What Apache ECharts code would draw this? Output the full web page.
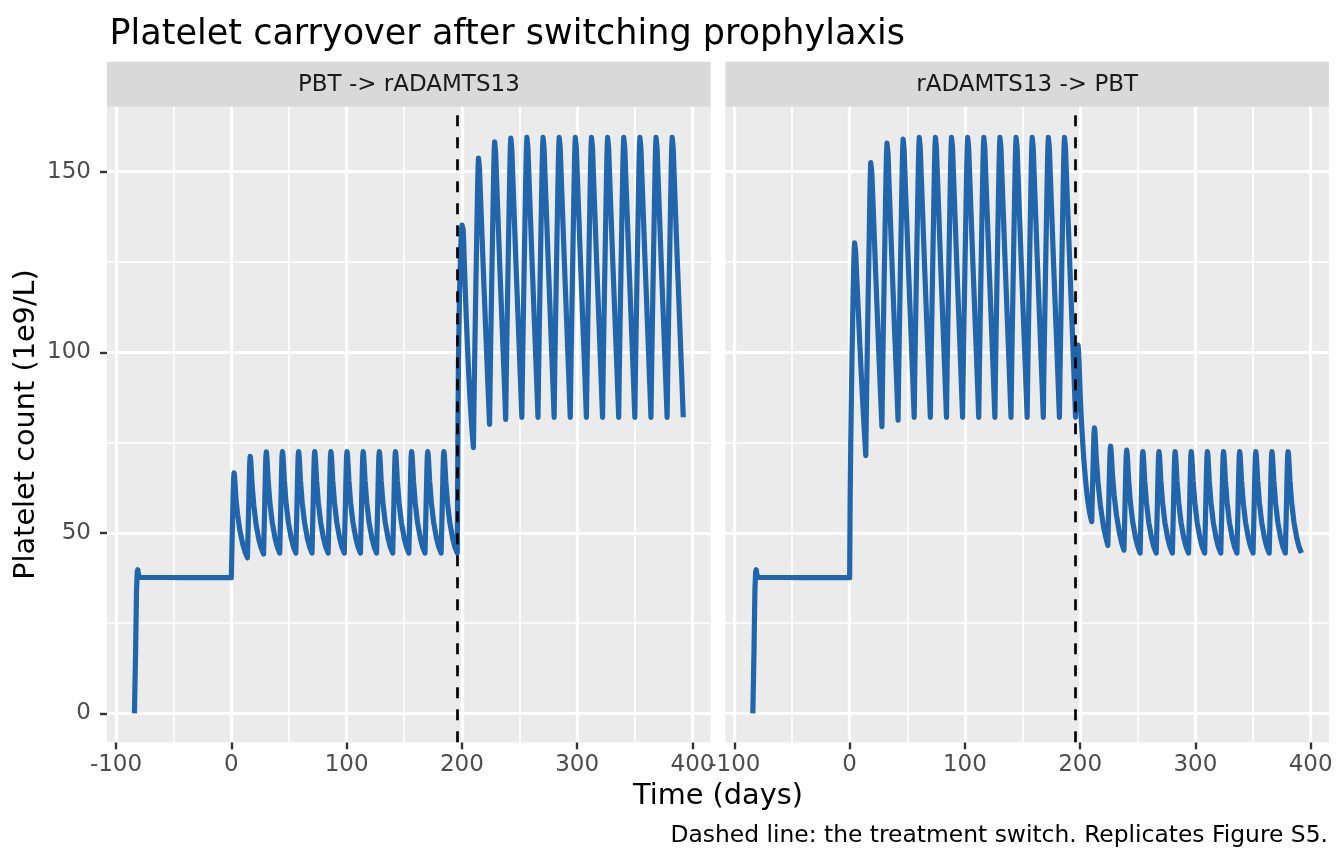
<!DOCTYPE html>
<html>
<head>
<meta charset="utf-8">
<title>Platelet carryover after switching prophylaxis</title>
<script src="https://cdn.jsdelivr.net/npm/echarts@6/dist/echarts.min.js"></script>
<style>
html, body { margin: 0; padding: 0; background: #fff; }
#chart { width: 1344px; height: 864px; }
</style>
</head>
<body>
<div id="chart"></div>
<script>
var FONT = '"DejaVu Sans", sans-serif';
var BLUE = '#2166AC';

var facets = ['PBT -> rADAMTS13', 'rADAMTS13 -> PBT'];
var switchDay = 196;
var xTicks = [-100, 0, 100, 200, 300, 400];
var xMinor = [-50, 50, 150, 250, 350];
var yTicks = [0, 50, 100, 150];
var yMinor = [25, 75, 125];

// [day, platelets]; run-in is the same for both arms
var baseline = [[-84,0],[-83,17],[-82.2,34],[-81.6,39],[-81.1,39.8],[-80.5,38.5],[-79.7,37.7],[-78.5,37.6],[-40,37.6]];

// arm 1: PBT every 14 days, then rADAMTS13
var pbtFirst = [
  [0,37.6],[1,52],[1.6,60.8],[2,65],[2.4,66.6],[2.8,65.8],[3.3,63.5],[4,59.5],[5.5,55],[7.5,50.5],[10,46.8],[12,44.6],
  [14,43.1],[15,56],[15.6,64.8],[16,69.5],[16.4,71.2],[16.8,70.3],[17.3,67.8],[18,63.5],[19.5,57.7],[21.5,52.3],[24,48],[26,45.7],
  [28,44.1],[29,58],[29.6,67],[30,71.2],[30.4,72.4],[30.8,71.4],[31.3,68.7],[32,64.4],[33.5,58.3],[35.5,52.9],[38,48.5],[40,46],
  [42,44.4],[43,58],[43.6,67],[44,71.3],[44.4,72.5],[44.8,71.5],[45.3,68.8],[46,64.5],[47.5,58.4],[49.5,52.9],[52,48.5],[54,46],
  [56,44.4],[57,58],[57.6,67],[58,71.3],[58.4,72.5],[58.8,71.5],[59.3,68.8],[60,64.5],[61.5,58.4],[63.5,52.9],[66,48.5],[68,46],
  [70,44.4],[71,58],[71.6,67],[72,71.3],[72.4,72.5],[72.8,71.5],[73.3,68.8],[74,64.5],[75.5,58.4],[77.5,52.9],[80,48.5],[82,46],
  [84,44.4],[85,58],[85.6,67],[86,71.3],[86.4,72.5],[86.8,71.5],[87.3,68.8],[88,64.5],[89.5,58.4],[91.5,52.9],[94,48.5],[96,46],
  [98,44.4],[99,58],[99.6,67],[100,71.3],[100.4,72.5],[100.8,71.5],[101.3,68.8],[102,64.5],[103.5,58.4],[105.5,52.9],[108,48.5],[110,46],
  [112,44.4],[113,58],[113.6,67],[114,71.3],[114.4,72.5],[114.8,71.5],[115.3,68.8],[116,64.5],[117.5,58.4],[119.5,52.9],[122,48.5],[124,46],
  [126,44.4],[127,58],[127.6,67],[128,71.3],[128.4,72.5],[128.8,71.5],[129.3,68.8],[130,64.5],[131.5,58.4],[133.5,52.9],[136,48.5],[138,46],
  [140,44.4],[141,58],[141.6,67],[142,71.3],[142.4,72.5],[142.8,71.5],[143.3,68.8],[144,64.5],[145.5,58.4],[147.5,52.9],[150,48.5],[152,46],
  [154,44.4],[155,58],[155.6,67],[156,71.3],[156.4,72.5],[156.8,71.5],[157.3,68.8],[158,64.5],[159.5,58.4],[161.5,52.9],[164,48.5],[166,46],
  [168,44.4],[169,58],[169.6,67],[170,71.3],[170.4,72.5],[170.8,71.5],[171.3,68.8],[172,64.5],[173.5,58.4],[175.5,52.9],[178,48.5],[180,46],
  [182,44.4],[183,58],[183.6,67],[184,71.3],[184.4,72.5],[184.8,71.5],[185.3,68.8],[186,64.5],[187.5,58.4],[189.5,52.9],[192,48.5],[194,46]
];
var radamtsAfter = [
  [196,44.4],[196.5,75],[197,97],[198,117],[199,129],[199.6,133.5],[200.1,135.2],[200.6,135.4],[201.1,134],[201.6,130.5],[202,126],[203,116.5],[204,108],[205,100.5],[206,93.5],[207,87.5],[208,82],[209,77.5],
  [210,73.6],[210.5,86],[211,96.5],[212,116],[213,134.5],[213.6,145],[214,150.8],[214.4,153.8],[214.8,153.9],[215.3,150.8],[216,144.5],[217.5,132],[219,119.5],[221,103.5],[222.5,91.5],
  [224,80],[224.5,92],[225,102.5],[226,121.5],[227,139.5],[227.6,150],[228,155.6],[228.4,158.3],[228.8,158.4],[229.3,155.3],[230,148.8],[231.5,135.8],[233,122.8],[235,106.5],[236.5,94.3],
  [238,81.4],[238.5,93.5],[239,103.5],[240,122.5],[241,140.5],[241.6,151],[242,156.6],[242.4,159.3],[242.8,159.4],[243.3,156.3],[244,149.8],[245.5,136.8],[247,123.8],[249,107.3],[250.5,94.8],
  [252,82],[252.5,94],[253,104],[254,123],[255,141],[255.6,151.5],[256,156.8],[256.4,159.5],[256.8,159.6],[257.3,156.5],[258,150],[259.5,137],[261,124],[263,107.5],[264.5,95],
  [266,82],[266.5,94],[267,104],[268,123],[269,141],[269.6,151.5],[270,156.8],[270.4,159.5],[270.8,159.6],[271.3,156.5],[272,150],[273.5,137],[275,124],[277,107.5],[278.5,95],
  [280,82],[280.5,94],[281,104],[282,123],[283,141],[283.6,151.5],[284,156.8],[284.4,159.5],[284.8,159.6],[285.3,156.5],[286,150],[287.5,137],[289,124],[291,107.5],[292.5,95],
  [294,82],[294.5,94],[295,104],[296,123],[297,141],[297.6,151.5],[298,156.8],[298.4,159.5],[298.8,159.6],[299.3,156.5],[300,150],[301.5,137],[303,124],[305,107.5],[306.5,95],
  [308,82],[308.5,94],[309,104],[310,123],[311,141],[311.6,151.5],[312,156.8],[312.4,159.5],[312.8,159.6],[313.3,156.5],[314,150],[315.5,137],[317,124],[319,107.5],[320.5,95],
  [322,82],[322.5,94],[323,104],[324,123],[325,141],[325.6,151.5],[326,156.8],[326.4,159.5],[326.8,159.6],[327.3,156.5],[328,150],[329.5,137],[331,124],[333,107.5],[334.5,95],
  [336,82],[336.5,94],[337,104],[338,123],[339,141],[339.6,151.5],[340,156.8],[340.4,159.5],[340.8,159.6],[341.3,156.5],[342,150],[343.5,137],[345,124],[347,107.5],[348.5,95],
  [350,82],[350.5,94],[351,104],[352,123],[353,141],[353.6,151.5],[354,156.8],[354.4,159.5],[354.8,159.6],[355.3,156.5],[356,150],[357.5,137],[359,124],[361,107.5],[362.5,95],
  [364,82],[364.5,94],[365,104],[366,123],[367,141],[367.6,151.5],[368,156.8],[368.4,159.5],[368.8,159.6],[369.3,156.5],[370,150],[371.5,137],[373,124],[375,107.5],[376.5,95],
  [378,82],[378.5,94],[379,104],[380,123],[381,141],[381.6,151.5],[382,156.8],[382.4,159.5],[382.8,159.6],[383.3,156.5],[384,150],[385.5,137],[387,124],[389,107.5],[390.5,95],
  [392,82]
];

// arm 2: rADAMTS13 first, then PBT
var radamtsFirst = [
  [0,37.6],[0.4,58],[1,76],[2,98],[3,116],[3.5,123.5],[3.9,128],[4.3,130.3],[4.7,130.3],[5.2,128],[6,122],[7,115],[8,108],[9,101],[10,94.5],[11,88.3],[12,82.3],[13,76.7],
  [14,71.4],[14.5,84],[15,94.5],[16,114],[17,132.5],[17.5,142.5],[17.9,149],[18.3,152.5],[18.7,152.6],[19.2,150],[20,143.5],[21.5,131],[23,118.5],[25,102.3],[26.5,90.7],
  [28,79.4],[28.5,91.5],[29,102],[30,121],[31,139],[31.6,149.8],[32,155.2],[32.4,157.9],[32.8,158],[33.3,155],[34,148.5],[35.5,135.5],[37,122.5],[39,106],[40.5,94],
  [42,81.2],[42.5,93.3],[43,103.3],[44,122.3],[45,140.3],[45.6,150.8],[46,156.3],[46.4,159],[46.8,159.1],[47.3,156],[48,149.5],[49.5,136.5],[51,123.5],[53,107],[54.5,94.8],
  [56,82],[56.5,94],[57,104],[58,123],[59,141],[59.6,151.5],[60,156.8],[60.4,159.5],[60.8,159.6],[61.3,156.5],[62,150],[63.5,137],[65,124],[67,107.5],[68.5,95],
  [70,82],[70.5,94],[71,104],[72,123],[73,141],[73.6,151.5],[74,156.8],[74.4,159.5],[74.8,159.6],[75.3,156.5],[76,150],[77.5,137],[79,124],[81,107.5],[82.5,95],
  [84,82],[84.5,94],[85,104],[86,123],[87,141],[87.6,151.5],[88,156.8],[88.4,159.5],[88.8,159.6],[89.3,156.5],[90,150],[91.5,137],[93,124],[95,107.5],[96.5,95],
  [98,82],[98.5,94],[99,104],[100,123],[101,141],[101.6,151.5],[102,156.8],[102.4,159.5],[102.8,159.6],[103.3,156.5],[104,150],[105.5,137],[107,124],[109,107.5],[110.5,95],
  [112,82],[112.5,94],[113,104],[114,123],[115,141],[115.6,151.5],[116,156.8],[116.4,159.5],[116.8,159.6],[117.3,156.5],[118,150],[119.5,137],[121,124],[123,107.5],[124.5,95],
  [126,82],[126.5,94],[127,104],[128,123],[129,141],[129.6,151.5],[130,156.8],[130.4,159.5],[130.8,159.6],[131.3,156.5],[132,150],[133.5,137],[135,124],[137,107.5],[138.5,95],
  [140,82],[140.5,94],[141,104],[142,123],[143,141],[143.6,151.5],[144,156.8],[144.4,159.5],[144.8,159.6],[145.3,156.5],[146,150],[147.5,137],[149,124],[151,107.5],[152.5,95],
  [154,82],[154.5,94],[155,104],[156,123],[157,141],[157.6,151.5],[158,156.8],[158.4,159.5],[158.8,159.6],[159.3,156.5],[160,150],[161.5,137],[163,124],[165,107.5],[166.5,95],
  [168,82],[168.5,94],[169,104],[170,123],[171,141],[171.6,151.5],[172,156.8],[172.4,159.5],[172.8,159.6],[173.3,156.5],[174,150],[175.5,137],[177,124],[179,107.5],[180.5,95],
  [182,82],[182.5,94],[183,104],[184,123],[185,141],[185.6,151.5],[186,156.8],[186.4,159.5],[186.8,159.6],[187.3,156.5],[188,150],[189.5,137],[191,124],[193,107.5],[194.5,95]
];
var pbtAfter = [
  [196,82],[196.6,90],[197.2,97.5],[197.7,101.2],[198.1,102],[198.5,100.8],[199,97.5],[199.5,93],[200,88.5],[201,81.5],[202,76],[203,71],[204,67],[205,63.5],[206,60.5],[207,58],[208,56],[209,54.4],
  [210,53.1],[211,66],[211.6,73.5],[212,77.6],[212.4,79.1],[212.8,78],[213.3,75.3],[214,70.5],[215.5,64],[217.5,57.7],[220,52.2],[222,49],
  [224,46.5],[225,61],[225.6,69],[226,72.8],[226.4,74],[226.8,73],[227.3,70.3],[228,66.2],[229.5,60.4],[231.5,54.9],[234,50.1],[236,47.2],
  [238,45.2],[239,59],[239.6,67.6],[240,71.7],[240.4,72.9],[240.8,71.9],[241.3,69.2],[242,64.9],[243.5,58.7],[245.5,53.2],[248,48.7],[250,46.2],
  [252,44.4],[253,58],[253.6,67],[254,71.3],[254.4,72.5],[254.8,71.5],[255.3,68.8],[256,64.5],[257.5,58.4],[259.5,52.9],[262,48.5],[264,46],
  [266,44.4],[267,58],[267.6,67],[268,71.3],[268.4,72.5],[268.8,71.5],[269.3,68.8],[270,64.5],[271.5,58.4],[273.5,52.9],[276,48.5],[278,46],
  [280,44.4],[281,58],[281.6,67],[282,71.3],[282.4,72.5],[282.8,71.5],[283.3,68.8],[284,64.5],[285.5,58.4],[287.5,52.9],[290,48.5],[292,46],
  [294,44.4],[295,58],[295.6,67],[296,71.3],[296.4,72.5],[296.8,71.5],[297.3,68.8],[298,64.5],[299.5,58.4],[301.5,52.9],[304,48.5],[306,46],
  [308,44.4],[309,58],[309.6,67],[310,71.3],[310.4,72.5],[310.8,71.5],[311.3,68.8],[312,64.5],[313.5,58.4],[315.5,52.9],[318,48.5],[320,46],
  [322,44.4],[323,58],[323.6,67],[324,71.3],[324.4,72.5],[324.8,71.5],[325.3,68.8],[326,64.5],[327.5,58.4],[329.5,52.9],[332,48.5],[334,46],
  [336,44.4],[337,58],[337.6,67],[338,71.3],[338.4,72.5],[338.8,71.5],[339.3,68.8],[340,64.5],[341.5,58.4],[343.5,52.9],[346,48.5],[348,46],
  [350,44.4],[351,58],[351.6,67],[352,71.3],[352.4,72.5],[352.8,71.5],[353.3,68.8],[354,64.5],[355.5,58.4],[357.5,52.9],[360,48.5],[362,46],
  [364,44.4],[365,58],[365.6,67],[366,71.3],[366.4,72.5],[366.8,71.5],[367.3,68.8],[368,64.5],[369.5,58.4],[371.5,52.9],[374,48.5],[376,46],
  [378,44.4],[379,58],[379.6,67],[380,71.3],[380.4,72.5],[380.8,71.5],[381.3,68.8],[382,64.5],[383.5,58.4],[385.5,52.9],[388,48.5],[390,46],
  [392,44.4]
];

var arms = [
  baseline.concat(pbtFirst, radamtsAfter),
  baseline.concat(radamtsFirst, pbtAfter)
];

var myChart = echarts.init(document.getElementById('chart'), null, {renderer: 'canvas'});

var panels = [{left: 107, width: 603.7}, {left: 725.4, width: 603.5}];
var panelTop = 106.7, panelH = 635.6;

var grid = [], xAxis = [], yAxis = [], series = [], graphic = [];

function gridLines() {
  var d = [];
  xTicks.forEach(function (v) { d.push({xAxis: v, lineStyle: {width: 3.2}}); });
  xMinor.forEach(function (v) { d.push({xAxis: v, lineStyle: {width: 1.6}}); });
  yTicks.forEach(function (v) { d.push({yAxis: v, lineStyle: {width: 3.2}}); });
  yMinor.forEach(function (v) { d.push({yAxis: v, lineStyle: {width: 1.6}}); });
  return d;
}

for (var i = 0; i < 2; i++) {
  var p = panels[i];
  grid.push({
    left: p.left, top: panelTop, width: p.width, height: panelH,
    show: true, backgroundColor: '#EBEBEB', borderWidth: 0
  });
  xAxis.push({
    gridIndex: i, type: 'value', min: -107.8, max: 415.8,
    axisLine: {show: false, onZero: false},
    axisTick: {show: true, customValues: xTicks, length: 7, lineStyle: {color: '#333333', width: 2.4}},
    axisLabel: {customValues: xTicks, color: '#4D4D4D', fontSize: 23, fontFamily: FONT, margin: 11.5},
    splitLine: {show: false}
  });
  yAxis.push({
    gridIndex: i, type: 'value', min: -8, max: 168,
    axisLine: {show: false, onZero: false},
    axisTick: {show: i === 0, customValues: yTicks, length: 7, lineStyle: {color: '#333333', width: 2.4}},
    axisLabel: {show: i === 0, customValues: yTicks, color: '#4D4D4D', fontSize: 23, fontFamily: FONT, margin: 16},
    splitLine: {show: false},
    name: i === 0 ? 'Platelet count (1e9/L)' : '',
    nameLocation: 'middle', nameGap: 66,
    nameTextStyle: {fontSize: 28.75, color: '#000', fontFamily: FONT}
  });
  // white panel grid, kept under the data
  series.push({
    type: 'line', xAxisIndex: i, yAxisIndex: i, data: [], z: 1, silent: true,
    markLine: {
      z: 1, silent: true, animation: false, symbol: ['none', 'none'],
      label: {show: false}, emphasis: {disabled: true},
      lineStyle: {color: '#FFFFFF', type: 'solid'},
      data: gridLines()
    }
  });
  series.push({
    name: facets[i], type: 'line', xAxisIndex: i, yAxisIndex: i,
    data: arms[i], showSymbol: false, symbol: 'none', silent: true, animation: false, z: 3,
    lineStyle: {color: BLUE, width: 5.2, join: 'round'}
  });
  // the treatment switch, on top
  series.push({
    type: 'line', xAxisIndex: i, yAxisIndex: i, data: [], z: 6, silent: true,
    markLine: {
      z: 6, silent: true, animation: false, symbol: ['none', 'none'],
      label: {show: false}, emphasis: {disabled: true},
      lineStyle: {color: '#000000', width: 2.7, type: [11, 11]},
      data: [{xAxis: switchDay}]
    }
  });
  // facet strip
  graphic.push({
    type: 'rect', silent: true,
    shape: {x: p.left, y: 61.7, width: p.width, height: panelTop - 61.7},
    style: {fill: '#D9D9D9'}
  });
  graphic.push({
    type: 'text', silent: true, x: p.left + p.width / 2, y: 85.5,
    style: {text: facets[i], fill: '#1A1A1A', font: '23px ' + FONT, textAlign: 'center', textVerticalAlign: 'middle'}
  });
}

graphic.push({
  type: 'text', silent: true, x: 718, y: 797,
  style: {text: 'Time (days)', fill: '#000', font: '28.75px ' + FONT, textAlign: 'center', textVerticalAlign: 'middle'}
});
graphic.push({
  type: 'text', silent: true, x: 1328, y: 836,
  style: {text: 'Dashed line: the treatment switch. Replicates Figure S5.', fill: '#000', font: '23.4px ' + FONT, textAlign: 'right', textVerticalAlign: 'middle'}
});

option = {
  backgroundColor: '#FFFFFF',
  animation: false,
  title: {
    text: 'Platelet carryover after switching prophylaxis',
    left: 104.5, top: 12,
    textStyle: {fontSize: 35, fontWeight: 'normal', color: '#000', fontFamily: FONT}
  },
  grid: grid,
  xAxis: xAxis,
  yAxis: yAxis,
  series: series,
  graphic: graphic
};

myChart.setOption(option);
</script>
</body>
</html>
